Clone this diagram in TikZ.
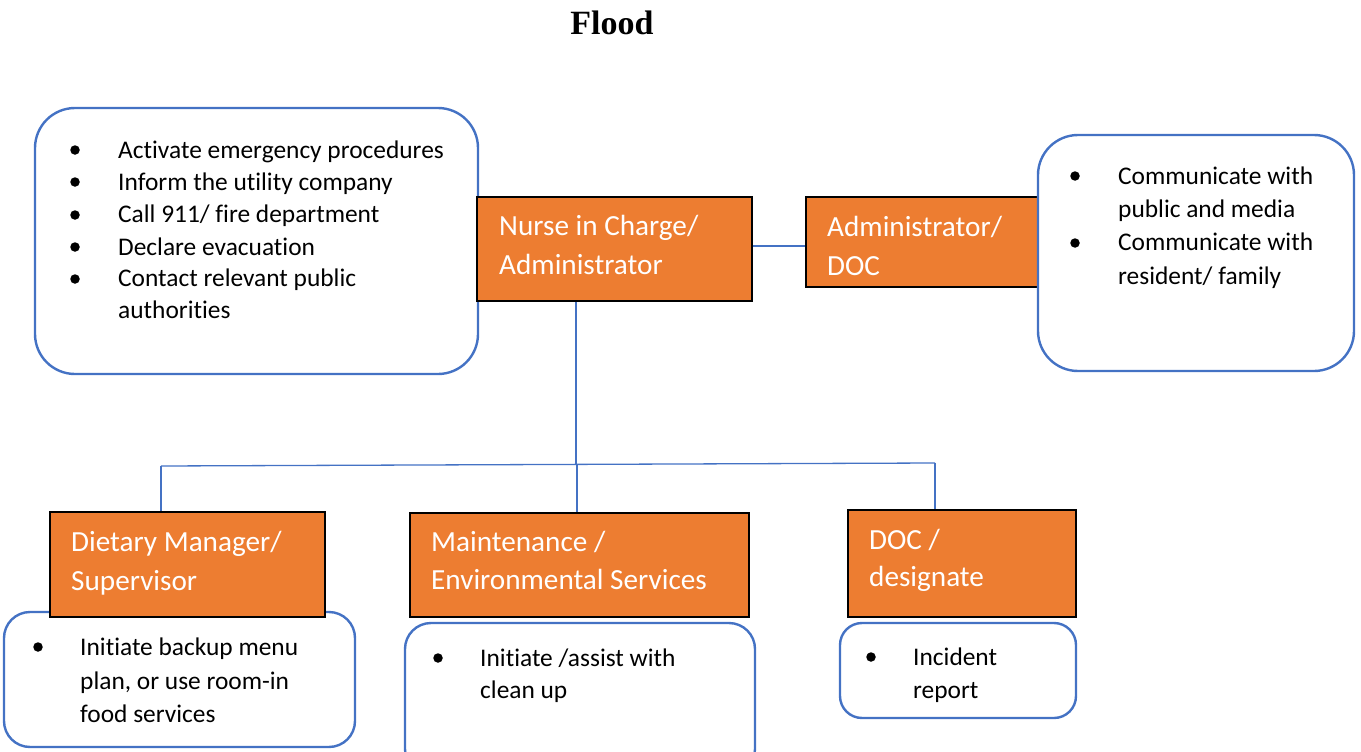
\documentclass[tikz,border=0pt]{standalone}
\usepackage{fontspec}
\setmainfont[Ligatures=NoCommon]{Carlito}
\newfontfamily\titlefont{Liberation Serif}
\definecolor{orng}{HTML}{ED7D31}
\definecolor{bblue}{HTML}{4472C4}
\tikzset{
  rbox/.style={draw=bblue, line width=2.4pt, fill=white, inner sep=0pt},
  obox/.style={draw=black, line width=1.8pt, fill=orng, inner sep=0pt},
  conn/.style={draw=bblue, line width=1.3pt},
  txt/.style={anchor=base west, inner sep=0pt, font=\fontsize{25.4}{30}\selectfont},
  otxt/.style={anchor=base west, inner sep=0pt, text=white, font=\fontsize{29.2}{34}\selectfont},
  bul/.style={circle, fill=black, inner sep=0pt, minimum size=9.5pt},
}
\newcommand{\txtline}[4]{\node[txt] (#1) at (#2,#3) {#4};}
\newcommand{\otxtline}[4]{\node[otxt] (#1) at (#2,#3) {#4};}
\newcommand{\bulnode}[3]{\node[bul] (#1) at (#2,#3) {};}
\begin{document}
\begin{tikzpicture}[x=1pt,y=-1pt]
\useasboundingbox (0,0) rectangle (1361,752);

% title
\node[anchor=base, inner sep=0pt, font=\titlefont\bfseries\fontsize{34}{40}\selectfont] (title) at (612,35) {Flood};

% top left box
\node[rbox, minimum width=443, minimum height=266, rounded corners=40] (tlbox) at (256.5,241) {};
\bulnode{tb1}{75}{150}
\bulnode{tb2}{75}{182}
\bulnode{tb3}{75}{215}
\bulnode{tb4}{75}{247}
\bulnode{tb5}{75}{279}
\txtline{tl1}{118}{158.3}{Activate emergency procedures}
\txtline{tl2}{118}{190.3}{Inform the utility company}
\txtline{tl3}{118}{222.7}{Call 911/ fire department}
\txtline{tl4}{118}{255}{Declare evacuation}
\txtline{tl5}{118}{286.7}{Contact relevant public}
\txtline{tl6}{118}{318.3}{authorities}

% nurse box
\node[obox, minimum width=275, minimum height=104] (nurse) at (614.5,249) {};
\otxtline{n1}{499}{235}{Nurse in Charge/}
\otxtline{n2}{499}{274}{Administrator}

% admin box
\node[obox, minimum width=234, minimum height=90] (admin) at (923,242) {};
\otxtline{a1}{827}{236.5}{Administrator/}
\otxtline{a2}{827}{275}{DOC}

% right box
\node[rbox, minimum width=316, minimum height=236, rounded corners=40] (trbox) at (1196,253) {};
\bulnode{rb1}{1075}{176}
\bulnode{rb2}{1075}{243}
\txtline{r1}{1118}{184}{Communicate with}
\txtline{r2}{1118}{217}{public and media}
\txtline{r3}{1118}{250.7}{Communicate with}
\txtline{r4}{1118}{284}{resident/ family}

% connectors
\coordinate (busM) at (576,465);
\coordinate (busL) at (161,466);
\coordinate (busR) at (935,463);
\draw[conn] (nurse.east |- 0,246) -- (admin.west |- 0,246);
\draw[conn] (nurse.south -| busM) -- (busM);
\draw[conn] (busL) -- (busR);

% bottom rounded boxes
\node[rbox, minimum width=351, minimum height=135, rounded corners=26] (dbox) at (179.5,679.5) {};
\node[rbox, minimum width=350, minimum height=152, rounded corners=26] (mbox) at (580,699) {};
\node[rbox, minimum width=236, minimum height=95, rounded corners=22] (cbox) at (958,670.5) {};

% bottom orange boxes
\node[obox, minimum width=275, minimum height=105] (diet) at (187.5,564.5) {};
\node[obox, minimum width=339, minimum height=104] (maint) at (579.5,565) {};
\node[obox, minimum width=228, minimum height=107] (doc) at (962,563.5) {};

\draw[conn] (busL) -- (busL |- diet.north);
\draw[conn] (busM) -- (busM -| 577,0) -- (maint.north -| 577,0);
\draw[conn] (busR) -- (busR |- doc.north);

\otxtline{d1}{71}{551.7}{Dietary Manager/}
\otxtline{d2}{71}{590}{Supervisor}
\otxtline{m1}{431}{551.7}{Maintenance /}
\otxtline{m2}{431}{589}{Environmental Services}
\otxtline{c1}{869}{549}{DOC /}
\otxtline{c2}{869}{586.7}{designate}

\bulnode{db1}{38}{647}
\txtline{dl1}{80}{655}{Initiate backup menu}
\txtline{dl2}{80}{689}{plan, or use room-in}
\txtline{dl3}{80}{722.7}{food services}

\bulnode{mb1}{438}{658}
\txtline{ml1}{480}{666}{Initiate /assist with}
\txtline{ml2}{480}{698}{clean up}

\bulnode{cb1}{871}{657}
\txtline{cl1}{913}{665}{Incident}
\txtline{cl2}{913}{698}{report}
\end{tikzpicture}
\end{document}
